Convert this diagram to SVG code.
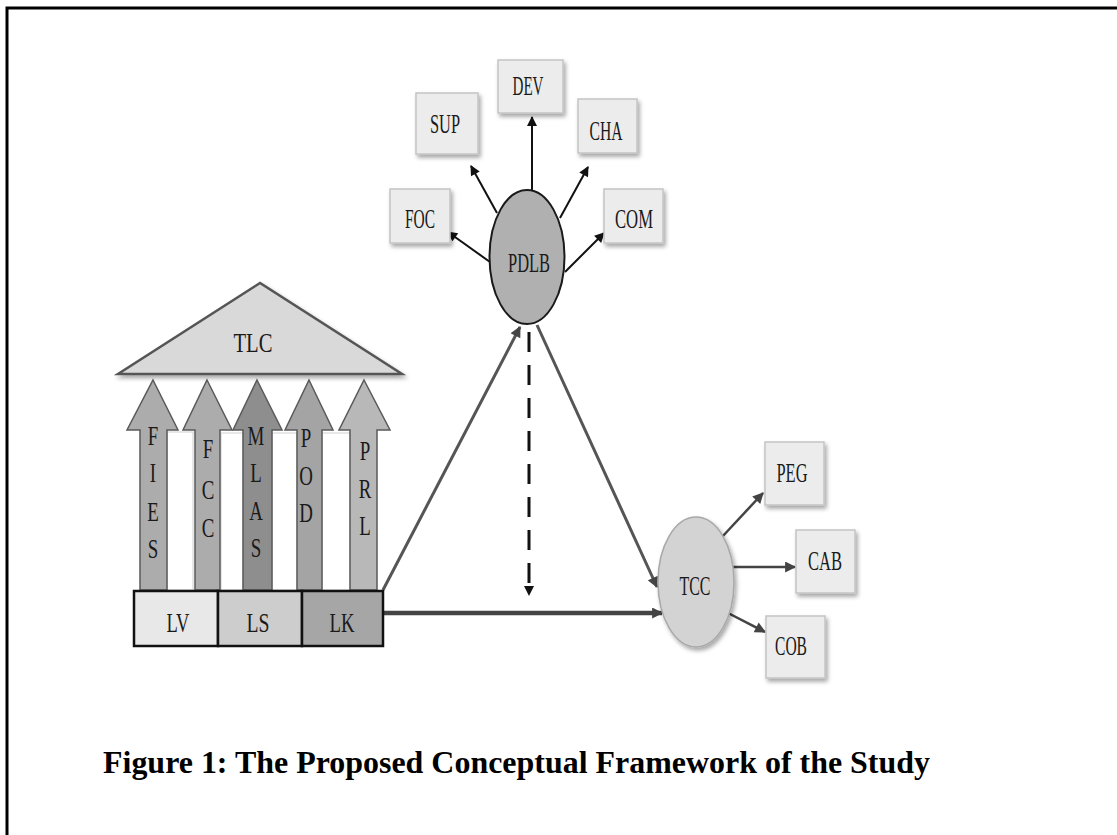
<svg xmlns="http://www.w3.org/2000/svg" width="1117" height="835" viewBox="0 0 1117 835">
<defs>
<style>
.lbl{font-family:"Liberation Serif","Times New Roman",serif;font-size:27px;fill:#1a1a1a;text-anchor:middle}
.box{fill:#ececec;stroke:#c4c4c4;stroke-width:1.5}
.up{stroke:#5a5a5a;stroke-width:1.5}
.gap{fill:#ffffff;stroke:#d0d0d0;stroke-width:1}
.cap{font-family:"Liberation Serif","Times New Roman",serif;font-size:32px;font-weight:bold;fill:#000}
</style>
<filter id="sh" x="-20%" y="-20%" width="150%" height="150%">
<feDropShadow dx="2" dy="3" stdDeviation="2" flood-color="#000" flood-opacity="0.35"/>
</filter>
<marker id="ah" viewBox="0 0 10 10" refX="9" refY="5" markerWidth="12" markerHeight="10" markerUnits="userSpaceOnUse" orient="auto">
<path d="M0,0 L10,5 L0,10 z" fill="#111"/>
</marker>
<marker id="ahg" viewBox="0 0 10 10" refX="9" refY="5" markerWidth="13" markerHeight="11" markerUnits="userSpaceOnUse" orient="auto">
<path d="M0,0 L10,5 L0,10 z" fill="#444"/>
</marker>
</defs>
<rect x="0" y="0" width="1117" height="835" fill="#fff"/>
<path d="M7,835 V8 H1117" fill="none" stroke="#000" stroke-width="3"/>

<g id="connectors" fill="none">
<line x1="532" y1="197" x2="532" y2="117" stroke="#111" stroke-width="2" marker-end="url(#ah)"/>
<line x1="497" y1="213" x2="471" y2="166" stroke="#111" stroke-width="2" marker-end="url(#ah)"/>
<line x1="560" y1="218" x2="588" y2="167" stroke="#111" stroke-width="2" marker-end="url(#ah)"/>
<line x1="490" y1="262" x2="448" y2="232" stroke="#111" stroke-width="2" marker-end="url(#ah)"/>
<line x1="565" y1="272" x2="604" y2="233" stroke="#111" stroke-width="2" marker-end="url(#ah)"/>
<line x1="722" y1="537" x2="763" y2="493" stroke="#444" stroke-width="2.5" marker-end="url(#ahg)"/>
<line x1="733" y1="567" x2="795" y2="567" stroke="#444" stroke-width="2.5" marker-end="url(#ahg)"/>
<line x1="728" y1="613" x2="765" y2="632" stroke="#444" stroke-width="2.5" marker-end="url(#ahg)"/>
<line x1="383" y1="590" x2="520" y2="327" stroke="#555" stroke-width="3" marker-end="url(#ahg)"/>
<line x1="537" y1="325" x2="657" y2="587" stroke="#555" stroke-width="3" marker-end="url(#ahg)"/>
<line x1="383" y1="613" x2="662" y2="613" stroke="#444" stroke-width="4.5" marker-end="url(#ahg)"/>
<line x1="529" y1="332" x2="529" y2="595" stroke="#111" stroke-width="3" stroke-dasharray="20 13" marker-end="url(#ah)"/>
</g>

<g id="TLC">
<polygon points="260,283 118,374 402,374" fill="#d9d9d9" stroke="#555" stroke-width="2.5" filter="url(#sh)"/>
<text class="lbl" x="253" y="352" textLength="39" lengthAdjust="spacingAndGlyphs">TLC</text>
</g>

<g id="gaps">
<rect class="gap" x="167" y="432" width="26" height="158"/>
<rect class="gap" x="221" y="433" width="22" height="157"/>
<rect class="gap" x="272" y="433" width="25" height="157"/>
<rect class="gap" x="322" y="433" width="28" height="157"/>
</g>

<g id="FIES">
<polygon class="up" points="153,380 178,430 167,430 167,590 140,590 140,430 127,430" fill="#acacac"/>
<text class="lbl" transform="matrix(0.7 0 0 1 153 0)"><tspan x="0" y="445">F</tspan><tspan x="0" y="482">I</tspan><tspan x="0" y="521">E</tspan><tspan x="0" y="558">S</tspan></text>
</g>
<g id="FCC">
<polygon class="up" points="207,380 232,430 220,430 220,590 195,590 195,430 183,430" fill="#acacac"/>
<text class="lbl" transform="matrix(0.7 0 0 1 208 0)"><tspan x="0" y="458">F</tspan><tspan x="0" y="499">C</tspan><tspan x="0" y="537">C</tspan></text>
</g>
<g id="MLAS">
<polygon class="up" points="257,380 282,430 272,430 272,590 243,590 243,430 233,430" fill="#8e8e8e"/>
<text class="lbl" transform="matrix(0.7 0 0 1 256 0)"><tspan x="0" y="445">M</tspan><tspan x="0" y="482">L</tspan><tspan x="0" y="520">A</tspan><tspan x="0" y="557">S</tspan></text>
</g>
<g id="POD">
<polygon class="up" points="309,380 333,430 322,430 322,590 297,590 297,430 285,430" fill="#a4a4a4"/>
<text class="lbl" transform="matrix(0.7 0 0 1 306 0)"><tspan x="0" y="447">P</tspan><tspan x="0" y="485">O</tspan><tspan x="0" y="522">D</tspan></text>
</g>
<g id="PRL">
<polygon class="up" points="364,380 390,430 377,430 377,590 350,590 350,430 339,430" fill="#b8b8b8"/>
<text class="lbl" transform="matrix(0.7 0 0 1 365 0)"><tspan x="0" y="460">P</tspan><tspan x="0" y="498">R</tspan><tspan x="0" y="535">L</tspan></text>
</g>

<g id="LV">
<rect x="134" y="591" width="84" height="55" fill="#e8e8e8" stroke="#111" stroke-width="2.5"/>
<text class="lbl" x="178" y="632" textLength="23" lengthAdjust="spacingAndGlyphs">LV</text>
</g>
<g id="LS">
<rect x="218" y="591" width="84" height="55" fill="#cdcdcd" stroke="#111" stroke-width="2.5"/>
<text class="lbl" x="258" y="632" textLength="23" lengthAdjust="spacingAndGlyphs">LS</text>
</g>
<g id="LK">
<rect x="302" y="591" width="81" height="55" fill="#a6a6a6" stroke="#111" stroke-width="2.5"/>
<text class="lbl" x="342" y="632" textLength="25" lengthAdjust="spacingAndGlyphs">LK</text>
</g>

<g id="PDLB">
<ellipse cx="527" cy="257" rx="37.5" ry="67" fill="#b0b0b0" stroke="#1a1a1a" stroke-width="2"/>
<text class="lbl" x="529" y="272" textLength="42" lengthAdjust="spacingAndGlyphs">PDLB</text>
</g>
<g id="DEV">
<rect class="box" x="498" y="60" width="65" height="53" filter="url(#sh)"/>
<text class="lbl" x="528" y="95" textLength="31" lengthAdjust="spacingAndGlyphs">DEV</text>
</g>
<g id="SUP">
<rect class="box" x="416" y="93" width="62" height="61" filter="url(#sh)"/>
<text class="lbl" x="445" y="133" textLength="30" lengthAdjust="spacingAndGlyphs">SUP</text>
</g>
<g id="CHA">
<rect class="box" x="578" y="99" width="59" height="54" filter="url(#sh)"/>
<text class="lbl" x="606" y="140" textLength="33" lengthAdjust="spacingAndGlyphs">CHA</text>
</g>
<g id="FOC">
<rect class="box" x="390" y="189" width="60" height="54" filter="url(#sh)"/>
<text class="lbl" x="420" y="228" textLength="30" lengthAdjust="spacingAndGlyphs">FOC</text>
</g>
<g id="COM">
<rect class="box" x="604" y="189" width="59" height="54" filter="url(#sh)"/>
<text class="lbl" x="634" y="228" textLength="38" lengthAdjust="spacingAndGlyphs">COM</text>
</g>

<g id="TCC">
<ellipse cx="696" cy="582" rx="38" ry="65" fill="#d3d3d3" stroke="#a8a8a8" stroke-width="1.5" filter="url(#sh)"/>
<text class="lbl" x="695" y="595" textLength="31" lengthAdjust="spacingAndGlyphs">TCC</text>
</g>
<g id="PEG">
<rect class="box" x="765" y="442" width="59" height="63" fill="#f2f2f2" filter="url(#sh)"/>
<text class="lbl" x="792" y="482" textLength="31" lengthAdjust="spacingAndGlyphs">PEG</text>
</g>
<g id="CAB">
<rect class="box" x="796" y="530" width="59" height="63" filter="url(#sh)"/>
<text class="lbl" x="825" y="570" textLength="34" lengthAdjust="spacingAndGlyphs">CAB</text>
</g>
<g id="COB">
<rect class="box" x="766" y="616" width="59" height="62" filter="url(#sh)"/>
<text class="lbl" x="791" y="655" textLength="32" lengthAdjust="spacingAndGlyphs">COB</text>
</g>

<text class="cap" x="103" y="773" textLength="827" lengthAdjust="spacingAndGlyphs">Figure 1: The Proposed Conceptual Framework of the Study</text>
</svg>
